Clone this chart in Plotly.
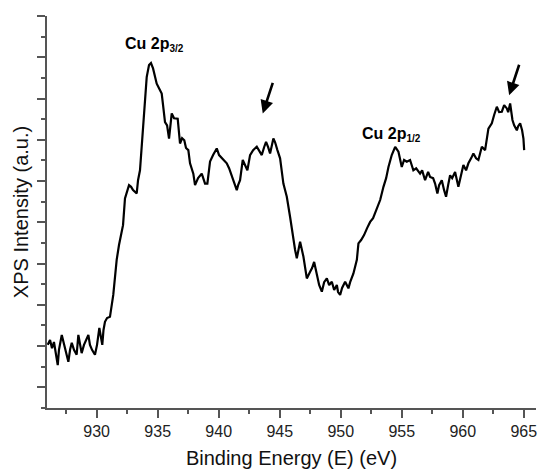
import plotly.graph_objects as go

# Cu 2p XPS spectrum: binding energy (eV) and intensity (counts, arbitrary scale)
binding_energy = [
    925.99, 926.18, 926.34, 926.50, 926.81, 926.91, 927.14, 927.32, 927.49, 927.68,
    927.82, 927.96, 928.14, 928.36, 928.50, 928.64, 928.77, 928.96, 929.13, 929.32,
    929.45, 929.62, 929.86, 930.03, 930.22, 930.36, 930.46, 930.56, 930.68, 930.85,
    931.09, 931.36, 931.64, 931.83, 932.05, 932.16, 932.32, 932.49, 932.65, 932.82,
    932.98, 933.28, 933.39, 933.55, 933.82, 934.10, 934.29, 934.45, 934.62, 934.92,
    935.11, 935.33, 935.44, 935.60, 935.77, 935.93, 936.15, 936.34, 936.64, 936.83,
    937.00, 937.18, 937.32, 937.51, 937.65, 937.92, 938.06, 938.31, 938.61, 938.88,
    939.07, 939.29, 939.54, 939.84, 940.03, 940.25, 940.44, 940.66, 940.85, 941.07,
    941.26, 941.48, 941.59, 941.75, 941.97, 942.16, 942.35, 942.57, 942.82, 943.12,
    943.31, 943.53, 943.72, 943.88, 944.05, 944.21, 944.48, 944.62, 944.81, 945.03,
    945.30, 945.58, 945.85, 946.12, 946.26, 946.40, 946.67, 946.94, 947.22, 947.49,
    947.65, 947.82, 948.09, 948.23, 948.45, 948.64, 948.86, 949.05, 949.27, 949.46,
    949.68, 949.78, 949.95, 950.11, 950.36, 950.63, 950.77, 951.04, 951.32, 951.45,
    951.67, 951.91, 952.16, 952.41, 952.65, 952.96, 953.23, 953.50, 953.72, 953.91,
    954.18, 954.46, 954.73, 955.00, 955.19, 955.41, 955.68, 955.95, 956.18, 956.50,
    956.67, 956.91, 957.16, 957.32, 957.57, 957.73, 957.92, 958.06, 958.28, 958.47,
    958.63, 958.80, 958.96, 959.13, 959.37, 959.64, 959.86, 960.05, 960.27, 960.46,
    960.68, 960.87, 961.09, 961.28, 961.56, 961.83, 962.10, 962.38, 962.57, 962.79,
    962.98, 963.20, 963.39, 963.61, 963.72, 963.88, 964.07, 964.21, 964.43, 964.54,
    964.70, 964.86, 964.97, 965.03,
]
intensity = [
    2030, 2150, 1950, 2100, 1540, 1910, 2270, 2030, 1860, 1620,
    1910, 2080, 1910, 1790, 2270, 2030, 1830, 2030, 2150, 2270,
    2030, 1910, 1790, 2030, 2440, 2150, 2030, 2390, 2590, 2680,
    2710, 3240, 4090, 4450, 4810, 4930, 5580, 5730, 5900, 5860,
    5780, 5700, 6020, 6260, 7400, 8520, 8810, 8860, 8730, 8360,
    8250, 8120, 7840, 7430, 7350, 7030, 7640, 7520, 7510, 6910,
    7040, 6990, 6800, 6750, 6430, 6180, 5900, 6070, 6180, 5940,
    5940, 6470, 6630, 6790, 6630, 6550, 6510, 6430, 6310, 6140,
    5970, 5780, 5900, 6020, 6510, 6390, 6260, 6630, 6750, 6830,
    6750, 6630, 6820, 6950, 6820, 6670, 7030, 6940, 6750, 6550,
    5940, 5620, 5130, 4570, 4330, 4130, 4530, 4170, 3640, 3800,
    3890, 4040, 3680, 3480, 3320, 3550, 3640, 3480, 3560, 3360,
    3480, 3310, 3240, 3410, 3560, 3400, 3550, 3760, 4090, 4490,
    4570, 4690, 4860, 5010, 5100, 5340, 5540, 5860, 6070, 6340,
    6630, 6830, 6710, 6340, 6510, 6470, 6510, 6260, 6310, 6180,
    6260, 6020, 6220, 6100, 6070, 5940, 5700, 5900, 6020, 5780,
    5620, 5900, 6140, 6070, 6220, 5860, 6140, 6390, 6260, 6430,
    6550, 6670, 6550, 6510, 6830, 6750, 7270, 7400, 7600, 7800,
    7670, 7680, 7840, 7760, 7670, 7880, 7480, 7350, 7230, 7330,
    7400, 7230, 7030, 6750,
]

x_ticks = [930, 935, 940, 945, 950, 955, 960, 965]

# Peak labels and satellite markers
peak_labels = [
    'Cu 2p<sub><span style="font-size:10px">3/2</span></sub>',
    'Cu 2p<sub><span style="font-size:10px">1/2</span></sub>',
]
peak_label_pos = [(934.74, 9315), (954.17, 7136)]
satellite_pos = [(943.61, 7640), (963.80, 8080)]

FONT = "Liberation Sans, Arial, sans-serif"
AXIS_COLOR = "#555555"

fig = go.Figure()
fig.add_trace(go.Scatter(
    x=binding_energy, y=intensity, mode="lines",
    line=dict(color="black", width=2.2),
    showlegend=False, hoverinfo="skip",
))

for text, (lx, ly) in zip(peak_labels, peak_label_pos):
    fig.add_annotation(
        x=lx, y=ly, text=text, showarrow=False,
        font=dict(family=FONT, size=16, color="black", weight="bold"),
        xanchor="center", yanchor="middle",
    )

for sx, sy in satellite_pos:
    fig.add_annotation(
        x=sx, y=sy, ax=10.5, ay=-32, axref="pixel", ayref="pixel",
        text="", showarrow=True, arrowhead=2, arrowsize=1.0,
        arrowwidth=2.6, arrowcolor="black", standoff=0,
    )

fig.update_layout(
    width=540, height=471,
    margin=dict(l=47, r=4, t=16, b=63),
    paper_bgcolor="white", plot_bgcolor="white",
    font=dict(family=FONT, color="#222222"),
)

fig.update_xaxes(
    range=[925.93, 966.0],
    tickmode="array", tickvals=x_ticks,
    ticks="outside", ticklen=8, tickwidth=1.5, tickcolor=AXIS_COLOR,
    minor=dict(dtick=2.5, tick0=927.5, ticks="outside", ticklen=4,
               tickwidth=1.5, tickcolor=AXIS_COLOR),
    showline=True, linecolor=AXIS_COLOR, linewidth=1.5,
    showgrid=False, zeroline=False,
    tickfont=dict(family=FONT, size=16, color="#222222"),
    title=dict(text="Binding Energy (E) (eV)",
               font=dict(family=FONT, size=20, color="#111111"), standoff=12),
)

fig.update_yaxes(
    range=[500, 10000],
    tick0=0, dtick=1000,
    ticks="outside", ticklen=8, tickwidth=1.5, tickcolor=AXIS_COLOR,
    minor=dict(dtick=500, ticks="outside", ticklen=4,
               tickwidth=1.5, tickcolor=AXIS_COLOR),
    showticklabels=False,
    showline=True, linecolor=AXIS_COLOR, linewidth=1.5,
    showgrid=False, zeroline=False,
    title=dict(text="XPS Intensity (a.u.)",
               font=dict(family=FONT, size=20, color="#111111"), standoff=3),
)

fig.write_html("out.html")
